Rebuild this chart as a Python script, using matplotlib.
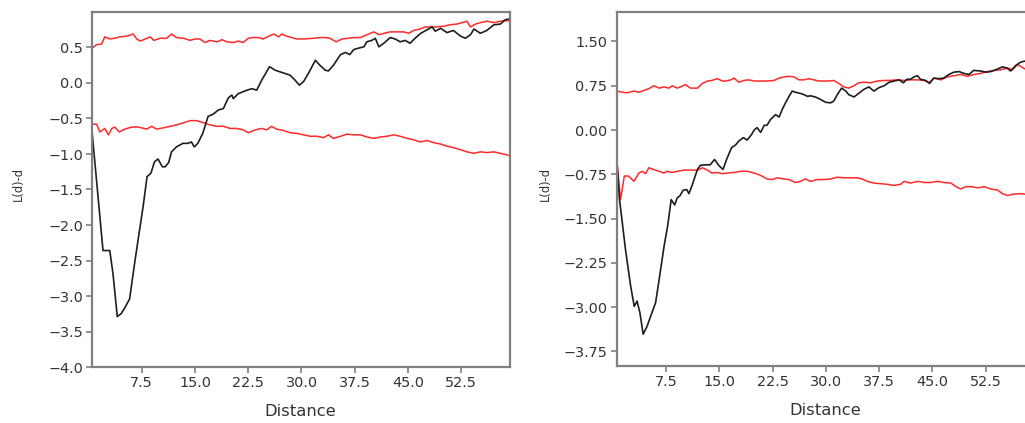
import matplotlib
matplotlib.use("Agg")
import matplotlib.pyplot as plt
from matplotlib.ticker import FixedLocator, FuncFormatter, FormatStrFormatter

# ---- Panel A: observed L(d)-d and simulation envelope ----
a_obs_x = [0.4, 2.05, 3.0, 3.45, 4.06, 4.6, 5.1, 5.8, 6.5, 7.2, 7.7, 8.25, 8.8, 9.3, 9.8,
           10.4, 10.8, 11.3, 11.7, 12.4, 13.3, 14.0, 14.5, 14.9, 15.4, 16.1, 16.85, 17.55,
           18.3, 19.0, 19.7, 20.2, 20.4, 21.1, 22.1, 23.0, 23.7, 24.4, 25.1, 25.5, 26.3,
           27.2, 28.4, 29.1, 29.7, 30.3, 31.0, 31.96, 32.6, 33.35, 33.8, 34.5, 35.5, 36.2,
           36.8, 37.35, 38.0, 38.8, 39.2, 39.9, 40.4, 40.9, 41.6, 42.5, 43.2, 43.9, 44.6,
           45.3, 46.0, 46.8, 47.7, 48.4, 48.85, 49.6, 50.5, 51.4, 52.4, 53.1, 53.8, 54.3,
           55.2, 56.1, 57.1, 58.0, 58.7, 59.2]
a_obs_y = [-0.57, -2.36, -2.36, -2.68, -3.29, -3.25, -3.17, -3.04, -2.54, -2.07, -1.74,
           -1.32, -1.27, -1.11, -1.07, -1.18, -1.18, -1.12, -0.97, -0.90, -0.85, -0.85,
           -0.83, -0.90, -0.85, -0.71, -0.47, -0.44, -0.38, -0.36, -0.21, -0.17, -0.22,
           -0.15, -0.11, -0.08, -0.10, 0.04, 0.16, 0.23, 0.18, 0.15, 0.11, 0.04, -0.03,
           0.02, 0.14, 0.32, 0.25, 0.18, 0.17, 0.25, 0.40, 0.43, 0.40, 0.47, 0.49, 0.51,
           0.58, 0.60, 0.63, 0.51, 0.56, 0.64, 0.62, 0.58, 0.60, 0.56, 0.63, 0.70, 0.75,
           0.79, 0.73, 0.77, 0.71, 0.74, 0.66, 0.63, 0.68, 0.76, 0.70, 0.74, 0.82, 0.83,
           0.89, 0.90]

a_hi_x = [0.5, 1.15, 1.86, 2.3, 3.0, 3.7, 4.4, 5.4, 6.3, 6.8, 7.3, 8.0, 8.7, 9.2, 10.1,
          11.0, 11.7, 12.4, 13.4, 14.3, 15.0, 15.7, 16.4, 17.1, 18.1, 18.8, 19.5, 20.4,
          21.1, 21.8, 22.5, 23.2, 23.95, 24.6, 25.4, 26.1, 26.8, 27.2, 27.9, 28.6, 29.35,
          30.3, 31.7, 32.6, 33.35, 34.0, 34.9, 35.7, 36.6, 37.35, 38.3, 39.2, 40.2, 40.9,
          41.6, 42.5, 43.4, 44.4, 45.1, 45.8, 46.7, 47.4, 48.1, 49.1, 50.0, 50.9, 51.9,
          52.6, 53.3, 53.8, 54.5, 55.2, 56.1, 57.1, 58.0, 59.2]
a_hi_y = [0.49, 0.54, 0.55, 0.65, 0.62, 0.63, 0.65, 0.66, 0.69, 0.62, 0.59, 0.62, 0.65,
          0.60, 0.63, 0.63, 0.69, 0.64, 0.63, 0.60, 0.62, 0.62, 0.57, 0.60, 0.58, 0.61,
          0.58, 0.57, 0.59, 0.57, 0.63, 0.64, 0.64, 0.62, 0.66, 0.69, 0.65, 0.69, 0.66,
          0.64, 0.62, 0.62, 0.63, 0.64, 0.64, 0.63, 0.58, 0.62, 0.63, 0.64, 0.64, 0.68,
          0.72, 0.68, 0.70, 0.72, 0.72, 0.72, 0.70, 0.74, 0.76, 0.79, 0.79, 0.79, 0.80,
          0.82, 0.83, 0.85, 0.87, 0.79, 0.83, 0.85, 0.87, 0.85, 0.87, 0.88]

a_lo_x = [0.5, 1.15, 1.6, 2.3, 2.8, 3.3, 3.7, 4.35, 5.1, 6.1, 7.0, 8.2, 8.9, 9.6, 10.6,
          11.5, 12.4, 13.4, 14.3, 15.25, 16.2, 17.1, 18.1, 19.0, 19.95, 20.9, 21.8, 22.5,
          23.5, 24.4, 25.1, 25.8, 26.5, 27.5, 28.4, 29.35, 30.3, 31.2, 32.2, 33.1, 33.8,
          34.5, 35.5, 36.4, 37.35, 38.3, 39.2, 40.2, 41.1, 42.05, 43.0, 43.9, 44.9, 45.8,
          46.7, 47.7, 48.6, 49.6, 50.5, 51.4, 52.4, 53.3, 54.3, 55.2, 56.1, 57.1, 58.0, 59.2]
a_lo_y = [-0.58, -0.58, -0.69, -0.64, -0.73, -0.64, -0.62, -0.69, -0.65, -0.62, -0.62,
          -0.65, -0.61, -0.65, -0.63, -0.61, -0.59, -0.56, -0.53, -0.53, -0.56, -0.59,
          -0.61, -0.61, -0.64, -0.64, -0.66, -0.70, -0.66, -0.64, -0.66, -0.61, -0.65,
          -0.67, -0.70, -0.71, -0.73, -0.75, -0.75, -0.77, -0.73, -0.78, -0.75, -0.72,
          -0.73, -0.73, -0.76, -0.78, -0.76, -0.75, -0.73, -0.75, -0.78, -0.80, -0.83,
          -0.81, -0.84, -0.86, -0.89, -0.91, -0.94, -0.97, -0.99, -0.97, -0.98, -0.97,
          -0.99, -1.02]

# ---- Panel B: observed L(d)-d and simulation envelope ----
b_obs_x = [0.6, 0.9, 1.77, 2.5, 3.0, 3.4, 3.8, 4.25, 4.8, 5.3, 6.0, 6.5, 7.2, 7.7, 8.2,
           8.7, 9.05, 9.4, 9.9, 10.4, 10.7, 11.2, 11.5, 11.9, 12.3, 13.0, 13.7, 14.3,
           14.9, 15.5, 16.0, 16.7, 17.3, 17.7, 18.35, 18.9, 19.5, 19.9, 20.3, 20.8, 21.3,
           21.7, 22.2, 22.9, 23.4, 23.85, 24.3, 24.8, 25.25, 25.7, 26.4, 26.9, 27.4, 27.8,
           28.5, 29.2, 29.95, 30.65, 31.1, 31.6, 32.2, 32.8, 33.2, 33.95, 34.6, 35.35,
           36.05, 36.75, 37.5, 38.2, 38.9, 39.6, 40.3, 40.9, 41.4, 41.9, 42.4, 42.9, 43.3,
           44.05, 44.6, 45.2, 45.9, 46.6, 47.3, 48.0, 48.75, 49.4, 50.15, 50.8, 51.8, 52.5,
           53.2, 53.9, 54.85, 55.5, 56.0, 56.7, 57.4, 58.1]
b_obs_y = [-0.60, -1.15, -2.03, -2.65, -2.99, -2.90, -3.10, -3.46, -3.33, -3.16, -2.93,
           -2.54, -1.97, -1.63, -1.18, -1.27, -1.15, -1.12, -1.02, -1.01, -1.08, -0.92,
           -0.81, -0.67, -0.60, -0.59, -0.59, -0.50, -0.60, -0.67, -0.50, -0.30, -0.25,
           -0.19, -0.13, -0.17, -0.08, 0.00, 0.04, -0.04, 0.08, 0.08, 0.18, 0.26, 0.22,
           0.35, 0.46, 0.57, 0.66, 0.64, 0.62, 0.60, 0.57, 0.58, 0.56, 0.52, 0.47, 0.46,
           0.49, 0.60, 0.71, 0.66, 0.60, 0.56, 0.62, 0.69, 0.73, 0.66, 0.72, 0.75, 0.81,
           0.83, 0.85, 0.80, 0.86, 0.86, 0.90, 0.92, 0.86, 0.84, 0.79, 0.88, 0.87, 0.88,
           0.94, 0.98, 0.99, 0.96, 0.94, 1.01, 1.00, 0.98, 0.99, 1.02, 1.07, 1.05, 1.00,
           1.09, 1.15, 1.17]

b_hi_x = [0.6, 1.3, 2.0, 2.95, 3.65, 4.35, 5.05, 5.76, 6.5, 7.2, 7.9, 8.35, 9.05, 9.5,
          10.2, 10.9, 11.9, 12.6, 13.3, 13.95, 14.7, 15.4, 15.9, 16.6, 17.05, 17.75,
          18.45, 19.15, 19.9, 20.8, 21.7, 22.7, 23.4, 24.1, 24.8, 25.5, 26.2, 26.9, 27.6,
          28.3, 29.0, 29.7, 30.4, 31.1, 31.8, 32.5, 33.2, 33.95, 34.6, 35.35, 36.3, 37.2,
          38.2, 39.1, 40.05, 41.0, 41.9, 42.9, 43.8, 44.5, 45.2, 46.2, 47.1, 48.0, 49.0,
          49.9, 50.8, 51.8, 52.7, 53.7, 54.6, 55.6, 56.25, 57.0, 57.4, 58.1]
b_hi_y = [0.66, 0.64, 0.63, 0.66, 0.64, 0.67, 0.70, 0.75, 0.71, 0.73, 0.71, 0.75, 0.71,
          0.73, 0.77, 0.71, 0.71, 0.79, 0.83, 0.84, 0.87, 0.83, 0.83, 0.85, 0.88, 0.81,
          0.84, 0.85, 0.83, 0.83, 0.83, 0.84, 0.88, 0.90, 0.91, 0.90, 0.85, 0.85, 0.87,
          0.85, 0.83, 0.83, 0.83, 0.84, 0.79, 0.73, 0.71, 0.75, 0.80, 0.81, 0.80, 0.83,
          0.84, 0.84, 0.85, 0.84, 0.85, 0.85, 0.84, 0.80, 0.88, 0.85, 0.90, 0.92, 0.94,
          0.91, 0.94, 0.96, 0.99, 1.01, 1.02, 1.05, 1.02, 1.11, 1.08, 1.03]

b_lo_x = [0.6, 1.07, 1.6, 2.2, 2.95, 3.65, 4.1, 4.6, 5.05, 5.76, 6.5, 7.2, 7.6, 8.35,
          9.05, 10.0, 10.9, 11.9, 12.6, 13.3, 13.95, 14.7, 15.4, 16.1, 17.05, 18.0, 18.9,
          19.9, 20.8, 21.7, 22.45, 23.1, 24.1, 24.8, 25.7, 26.4, 27.1, 27.8, 28.8, 29.7,
          30.65, 31.6, 32.5, 33.5, 34.4, 35.1, 35.8, 36.75, 37.7, 38.6, 39.6, 40.5, 41.0,
          41.9, 42.9, 43.8, 44.7, 45.7, 46.6, 47.6, 48.3, 49.0, 49.7, 50.4, 51.4, 52.3,
          53.2, 54.2, 54.85, 55.6, 56.25, 57.0, 57.6, 58.1]
b_lo_y = [-0.59, -1.18, -0.78, -0.78, -0.87, -0.73, -0.70, -0.74, -0.64, -0.67, -0.70,
          -0.73, -0.70, -0.72, -0.70, -0.68, -0.68, -0.68, -0.64, -0.68, -0.73, -0.72,
          -0.74, -0.73, -0.72, -0.70, -0.70, -0.73, -0.77, -0.83, -0.84, -0.81, -0.83,
          -0.84, -0.89, -0.87, -0.83, -0.87, -0.84, -0.84, -0.83, -0.80, -0.81, -0.81,
          -0.81, -0.83, -0.87, -0.90, -0.91, -0.92, -0.94, -0.92, -0.87, -0.90, -0.87,
          -0.89, -0.89, -0.87, -0.89, -0.90, -0.96, -1.00, -0.96, -0.96, -0.98, -0.96,
          -1.00, -1.02, -1.08, -1.11, -1.09, -1.08, -1.08, -1.09]

x_ticks = [7.5, 15.0, 22.5, 30.0, 37.5, 45.0, 52.5]
a_y_ticks = [0.5, 0.0, -0.5, -1.0, -1.5, -2.0, -2.5, -3.0, -3.5, -4.0]
b_y_ticks = [1.50, 0.75, 0.00, -0.75, -1.50, -2.25, -3.00, -3.75]

SPINE = "#808080"
TEXT = "#333333"
RED = "#ff2a2a"
BLACK = "#1e1e1e"

plt.rcParams["font.family"] = ["DejaVu Sans"]

W, H = 1025, 423
fig = plt.figure(figsize=(W / 100, H / 100), dpi=100)


def make_axes(left_px, right_px, top_px, bottom_px):
    return fig.add_axes([left_px / W, 1 - bottom_px / H,
                         (right_px - left_px) / W, (bottom_px - top_px) / H])


def signed(decimals):
    def fmt(v, _pos):
        s = f"{v:.{decimals}f}"
        if s.startswith("-") and float(s) != 0:
            s = "\u2212" + s[1:]
        elif s.startswith("-"):
            s = s[1:]
        return s
    return FuncFormatter(fmt)


def style(ax, yticks, ydec, ylim, ylab_x):
    ax.set_xlim(0.5, 59.3)
    ax.set_ylim(*ylim)
    ax.xaxis.set_major_locator(FixedLocator(x_ticks))
    ax.xaxis.set_major_formatter(FormatStrFormatter("%.1f"))
    ax.yaxis.set_major_locator(FixedLocator(yticks))
    ax.yaxis.set_major_formatter(signed(ydec))
    for side, sp in ax.spines.items():
        sp.set_color(SPINE)
        sp.set_linewidth(1.6)
    ax.tick_params(axis="both", which="major", direction="out", length=4.5,
                   width=1.2, color=SPINE, labelcolor=TEXT, labelsize=10.4, pad=2)
    ax.tick_params(top=False, right=False)
    ax.set_xlabel("Distance", color=TEXT, fontsize=11.8, va="top")
    ax.xaxis.set_label_coords(0.5, -0.105)
    ax.set_ylabel("L(d)-d", color=TEXT, fontsize=8.3, va="center")
    ax.yaxis.set_label_coords(ylab_x, 0.515)


ax1 = make_axes(92, 509.5, 12, 367)
ax1.plot(a_hi_x, a_hi_y, color=RED, lw=1.1)
ax1.plot(a_lo_x, a_lo_y, color=RED, lw=1.1)
ax1.plot(a_obs_x, a_obs_y, color=BLACK, lw=1.2)
style(ax1, a_y_ticks, 1, (-4.0, 1.0), (18 - 92) / 417.5)

ax2 = make_axes(616.5, 1034, 12, 366)
ax2.plot(b_hi_x, b_hi_y, color=RED, lw=1.1)
ax2.plot(b_lo_x, b_lo_y, color=RED, lw=1.1)
ax2.plot(b_obs_x, b_obs_y, color=BLACK, lw=1.2)
style(ax2, b_y_ticks, 2, (-4.0, 2.0), (545 - 616.5) / 417.5)

fig.savefig("out.png", dpi=100, facecolor="white")
